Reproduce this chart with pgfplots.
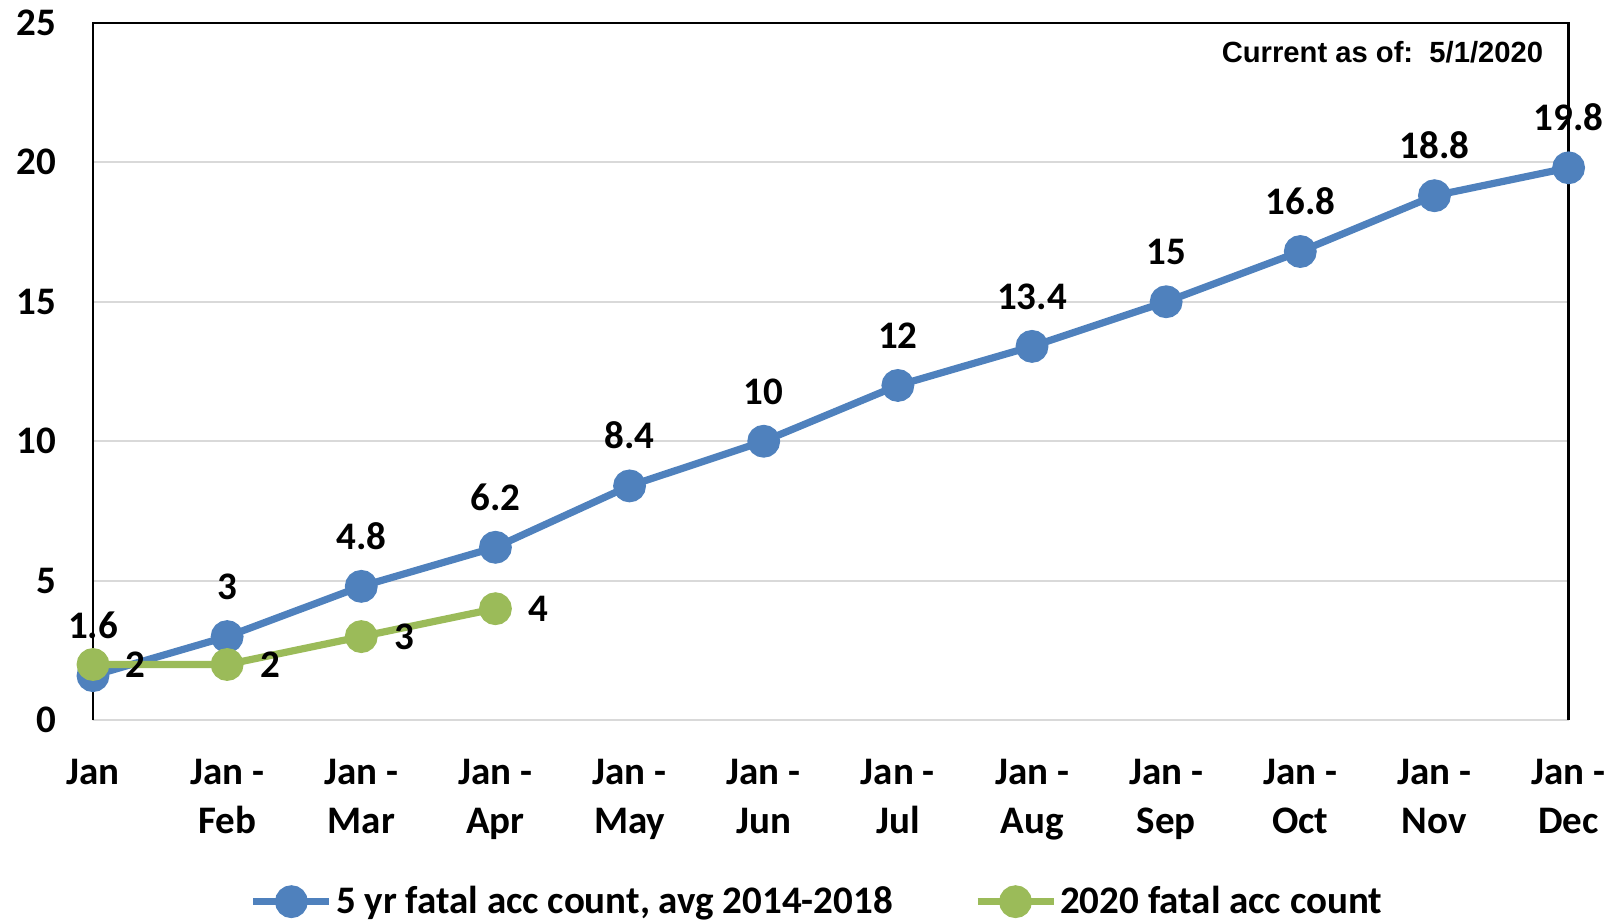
\documentclass[border=0pt]{standalone}
\usepackage{pgfplots}
\pgfplotsset{compat=1.18}
\usepackage{fontspec}
\setmainfont{Carlito}
\newfontfamily\arialfont{Liberation Sans}
\definecolor{cblue}{HTML}{4F81BD}
\definecolor{cgreen}{HTML}{9BBB59}
\definecolor{cgrid}{HTML}{D9D9D9}
\newcommand\bigfont{\fontsize{19.5pt}{24.5pt}\selectfont\bfseries}
\begin{document}
\begin{tikzpicture}
\begin{axis}[
  at={(0,0)}, anchor=south west,
  scale only axis, width=737.8pt, height=348.8pt,
  xmin=0, xmax=11, ymin=0, ymax=25,
  clip=false,
  axis line style={draw=none},
  tick style={draw=none},
  /pgf/number format/assume math mode=true,
  ytick={0,5,10,15,20,25},
  ymajorgrids,
  major grid style={cgrid, line width=1.1pt},
  yticklabel style={font=\bigfont, anchor=east, xshift=-14.7pt},
  xtick={0,...,11},
  xticklabels={{Jan\\\phantom{Feb}},{Jan -\\Feb},{Jan -\\Mar},{Jan -\\Apr},{Jan -\\May},{Jan -\\Jun},{Jan -\\Jul},{Jan -\\Aug},{Jan -\\Sep},{Jan -\\Oct},{Jan -\\Nov},{Jan -\\Dec}},
  xticklabel style={font=\bigfont, align=center, anchor=north, yshift=-16pt},
  legend style={at={(0.491,-0.26)}, anchor=center, draw=none, fill=none,
    font=\bigfont, legend columns=2,
    /tikz/every even column/.append style={column sep=39pt},
    nodes={inner sep=1.5pt}},
  legend cell align=left,
  legend image code/.code={\draw[mark repeat=2,mark phase=2,#1] plot coordinates {(0pt,0pt) (19pt,0pt) (38pt,0pt)};},
]
\draw[black, line width=1.2pt] (rel axis cs:0,0) -- (rel axis cs:0,1) -- (rel axis cs:1,1) -- (rel axis cs:1,0);
\addplot[cblue, line width=3.6pt, mark=*, mark size=6.4pt,
  nodes near coords,
  nodes near coords style={font=\bigfont, text=black, anchor=base, yshift=18.6pt}]
  coordinates {(0,1.6) (1,3) (2,4.8) (3,6.2) (4,8.4) (5,10) (6,12) (7,13.4) (8,15) (9,16.8) (10,18.8) (11,19.8)};
\addlegendentry{5 yr fatal acc count, avg 2014-2018}
\addplot[cgreen, line width=3.6pt, mark=*, mark size=6.4pt,
  nodes near coords,
  nodes near coords style={font=\bigfont, text=black, anchor=west, xshift=11.3pt}]
  coordinates {(0,2) (1,2) (2,3) (3,4)};
\addlegendentry{2020 fatal acc count}
\node[anchor=east, font=\arialfont\bfseries\fontsize{14.6pt}{17pt}\selectfont, xshift=-9.2pt, yshift=-15pt] at (rel axis cs:1,1) {Current as of:\ \ 5/1/2020};
\end{axis}
\pgfresetboundingbox
\path[use as bounding box] (-46.5pt,-100.85pt) rectangle (762.5pt,360.15pt);
\end{tikzpicture}
\end{document}
